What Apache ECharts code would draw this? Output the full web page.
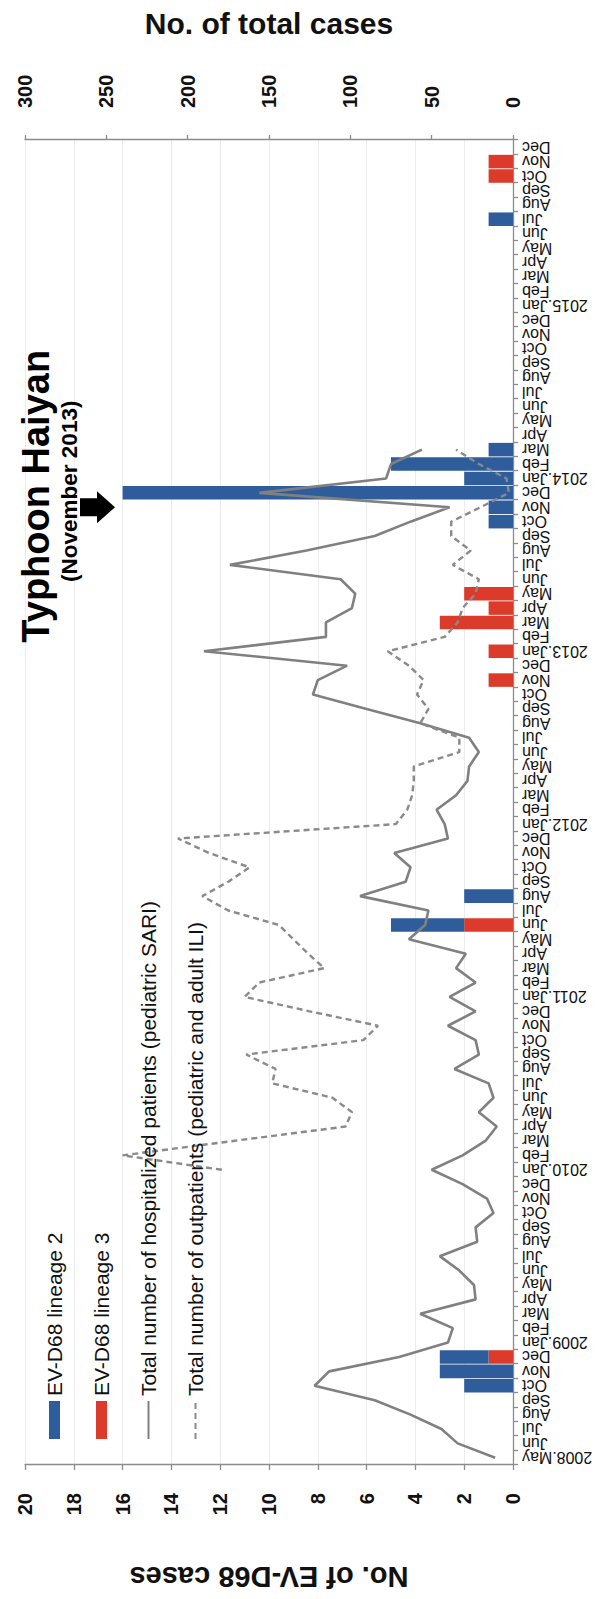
<!DOCTYPE html>
<html>
<head>
<meta charset="utf-8">
<title>EV-D68 cases and total cases, 2008-2015</title>
<script src="https://cdn.jsdelivr.net/npm/echarts@6/dist/echarts.min.js"></script>
<style>
  html, body { margin: 0; padding: 0; background: #fff; overflow: hidden; }
  body { width: 596px; height: 1599px; position: relative; }
  /* the chart is laid out landscape and turned a quarter turn counter-clockwise */
  #chart {
    position: absolute; left: 0; top: 0;
    width: 1599px; height: 596px;
    transform-origin: 0 0;
    transform: translate(0, 1599px) rotate(-90deg);
  }
</style>
</head>
<body>
<div id="chart"></div>
<script>
// month categories, May 2008 - Dec 2015
const months = [
  '2008.May','Jun','Jul','Aug','Sep','Oct','Nov','Dec',
  '2009.Jan','Feb','Mar','Apr','May','Jun','Jul','Aug','Sep','Oct','Nov','Dec',
  '2010.Jan','Feb','Mar','Apr','May','Jun','Jul','Aug','Sep','Oct','Nov','Dec',
  '2011.Jan','Feb','Mar','Apr','May','Jun','Jul','Aug','Sep','Oct','Nov','Dec',
  '2012.Jan','Feb','Mar','Apr','May','Jun','Jul','Aug','Sep','Oct','Nov','Dec',
  '2013.Jan','Feb','Mar','Apr','May','Jun','Jul','Aug','Sep','Oct','Nov','Dec',
  '2014.Jan','Feb','Mar','Apr','May','Jun','Jul','Aug','Sep','Oct','Nov','Dec',
  '2015.Jan','Feb','Mar','Apr','May','Jun','Jul','Aug','Sep','Oct','Nov','Dec'
];

// EV-D68 lineage 2 detections per month
const lineage2 = [
  0,0,0,0,0,2,3,2,
  0,0,0,0,0,0,0,0,0,0,0,0,
  0,0,0,0,0,0,0,0,0,0,0,0,
  0,0,0,0,0,3,0,2,0,0,0,0,
  0,0,0,0,0,0,0,0,0,0,0,0,
  0,0,0,0,0,0,0,0,0,1,1,16,
  2,5,1,0,0,0,0,0,0,0,0,0,
  0,0,0,0,0,0,1,0,0,0,0,0
];

// EV-D68 lineage 3 detections per month
const lineage3 = [
  0,0,0,0,0,0,0,1,
  0,0,0,0,0,0,0,0,0,0,0,0,
  0,0,0,0,0,0,0,0,0,0,0,0,
  0,0,0,0,0,2,0,0,0,0,0,0,
  0,0,0,0,0,0,0,0,0,0,1,0,
  1,0,3,1,2,0,0,0,0,0,0,0,
  0,0,0,0,0,0,0,0,0,0,0,0,
  0,0,0,0,0,0,0,0,0,1,1,0
];

// hospitalized patients (pediatric SARI) per month
const sari = [
  11,34,44,63,85,122,113,70,
  40,37,57,23,24,33,45,22,23,12,16,31,
  50,31,17,10,21,12,15,36,21,23,40,23,
  39,23,35,29,64,54,52,94,66,63,73,40,
  42,47,35,28,27,21,27,57,90,123,120,102,
  190,115,115,99,97,106,174,127,85,63,39,156,
  78,75,56,null,null,null,null,null,null,null,null,null,
  null,null,null,null,null,null,null,null,null,null,null,null
];

// outpatients (pediatric and adult ILI) per month
const ili = [
  null,null,null,null,null,null,null,null,
  null,null,null,null,null,null,null,null,null,null,null,null,
  179,240,172,103,99,111,148,146,164,92,83,125,
  165,156,116,126,135,144,175,191,175,162,187,206,
  72,65,62,61,61,33,33,57,52,59,55,64,
  77,42,34,31,23,21,37,26,38,38,20,2.5,
  4,21,35,null,null,null,null,null,null,null,null,null,
  null,null,null,null,null,null,null,null,null,null,null,null
];

const evTicks = { min: 0, max: 20, interval: 2 };
const totalTicks = { min: 0, max: 300, interval: 50 };

const FONT = "'Liberation Sans', Arial, Helvetica, sans-serif";
const BLUE = '#2f5d9c';
const RED = '#dc3a2a';
const GREY = '#808080';
const GREY_DASH = '#8a8a8a';

const SARI_NAME = 'Total number of hospitalized patients (pediatric SARI)';
const ILI_NAME = 'Total number of outpatients (pediatric and adult ILI)';

const chart = echarts.init(document.getElementById('chart'), null, { renderer: 'svg' });

const axisLineStyle = { color: '#8c8c8c', width: 1.3 };

const option = {
  animation: false,
  backgroundColor: '#fff',
  textStyle: { fontFamily: FONT },
  grid: { left: 134, right: 137, top: 25, bottom: 83 },
  legend: {
    orient: 'vertical',
    left: 154,
    top: 39,
    itemWidth: 38,
    itemHeight: 11,
    itemGap: 26,
    textStyle: { fontSize: 21, color: '#111', fontFamily: FONT },
    data: [
      { name: 'EV-D68 lineage 2', icon: 'rect' },
      { name: 'EV-D68 lineage 3', icon: 'rect' },
      // line-only keys: the point marker is hidden
      { name: SARI_NAME, itemStyle: { opacity: 0, borderWidth: 0 } },
      { name: ILI_NAME, itemStyle: { opacity: 0, borderWidth: 0 } }
    ]
  },
  xAxis: {
    type: 'category',
    data: months,
    boundaryGap: true,
    axisLine: { lineStyle: axisLineStyle },
    axisTick: { show: true, length: 5, interval: 0, lineStyle: axisLineStyle },
    axisLabel: { rotate: 90, interval: 0, fontSize: 16, color: '#111', margin: 9, fontFamily: FONT },
    splitLine: { show: false }
  },
  yAxis: [
    {
      type: 'value',
      position: 'left',
      min: evTicks.min, max: evTicks.max, interval: evTicks.interval,
      name: 'No. of EV-D68 cases',
      nameLocation: 'middle',
      nameRotate: 90,
      nameGap: 97,
      nameTextStyle: { fontSize: 29, fontWeight: 'bold', color: '#111', fontFamily: FONT },
      axisLine: { show: true, lineStyle: axisLineStyle },
      axisTick: { show: true, length: 5, lineStyle: axisLineStyle },
      axisLabel: { fontSize: 20, fontWeight: 'bold', color: '#111', margin: 28, fontFamily: FONT },
      splitLine: { show: true, lineStyle: { color: '#ececec', width: 1 } }
    },
    {
      type: 'value',
      position: 'right',
      min: totalTicks.min, max: totalTicks.max, interval: totalTicks.interval,
      name: 'No. of total cases',
      nameLocation: 'middle',
      nameRotate: -90,
      nameGap: 102,
      nameTextStyle: { fontSize: 30, fontWeight: 'bold', color: '#111', fontFamily: FONT },
      axisLine: { show: true, lineStyle: axisLineStyle },
      axisTick: { show: true, length: 5, lineStyle: axisLineStyle },
      axisLabel: { fontSize: 20, fontWeight: 'bold', color: '#111', margin: 32, fontFamily: FONT },
      splitLine: { show: false }
    }
  ],
  series: [
    {
      name: 'EV-D68 lineage 3',
      type: 'bar',
      stack: 'ev',
      yAxisIndex: 0,
      data: lineage3,
      barCategoryGap: '6%',
      itemStyle: { color: RED }
    },
    {
      name: 'EV-D68 lineage 2',
      type: 'bar',
      stack: 'ev',
      yAxisIndex: 0,
      data: lineage2,
      barCategoryGap: '6%',
      itemStyle: { color: BLUE }
    },
    {
      name: SARI_NAME,
      type: 'line',
      yAxisIndex: 1,
      data: sari,
      symbol: 'none',
      connectNulls: false,
      z: 3,
      lineStyle: { color: GREY, width: 2.6 },
      itemStyle: { color: GREY }
    },
    {
      name: ILI_NAME,
      type: 'line',
      yAxisIndex: 1,
      data: ili,
      symbol: 'none',
      connectNulls: false,
      z: 3,
      lineStyle: { color: GREY_DASH, width: 2.4, type: [6, 4] },
      itemStyle: { color: GREY_DASH }
    }
  ]
};

chart.setOption(option);

// Typhoon Haiyan marker: arrow pointing at November 2013 on the month axis
const haiyanIndex = months.indexOf('2013.Jan') + 10;
const ax = chart.convertToPixel({ xAxisIndex: 0 }, haiyanIndex);

chart.setOption({
  graphic: [
    {
      type: 'polygon',
      z: 10,
      shape: {
        points: [
          [ax - 9, 80], [ax + 9, 80], [ax + 9, 97], [ax + 16, 97],
          [ax, 115], [ax - 16, 97], [ax - 9, 97]
        ]
      },
      style: { fill: '#000' }
    },
    {
      type: 'text',
      z: 10,
      x: ax + 11,
      y: 36,
      style: {
        text: 'Typhoon Haiyan',
        font: "bold 38px 'Liberation Sans', Arial, sans-serif",
        fill: '#000',
        align: 'center',
        verticalAlign: 'middle'
      }
    },
    {
      type: 'text',
      z: 10,
      x: ax + 16,
      y: 69,
      style: {
        text: '(November 2013)',
        font: "bold 22.5px 'Liberation Sans', Arial, sans-serif",
        fill: '#000',
        align: 'center',
        verticalAlign: 'middle'
      }
    }
  ]
});
</script>
</body>
</html>
